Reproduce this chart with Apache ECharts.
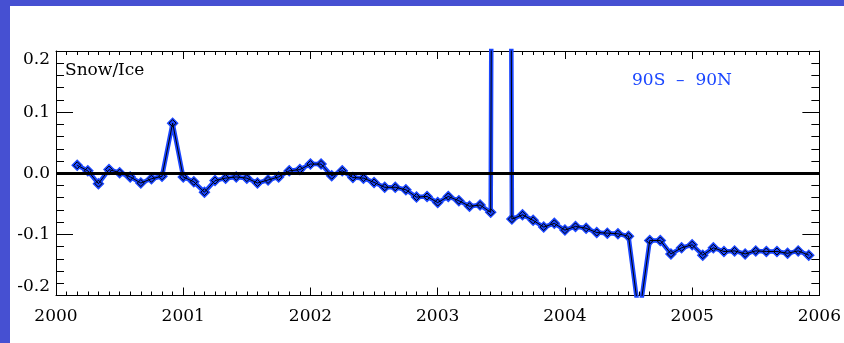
<!DOCTYPE html>
<html><head><meta charset="utf-8">
<script src="https://cdn.jsdelivr.net/npm/echarts@6/dist/echarts.min.js"></script>
<style>html,body{margin:0;padding:0;background:#fff}#c{width:844px;height:343px}</style>
</head><body><div id="c"></div>
<script>
// Monthly dates (YYYY-MM)
const dates = [
 '2000-03','2000-04','2000-05','2000-06','2000-07','2000-08','2000-09','2000-10','2000-11','2000-12',
 '2001-01','2001-02','2001-03','2001-04','2001-05','2001-06','2001-07','2001-08','2001-09','2001-10','2001-11','2001-12',
 '2002-01','2002-02','2002-03','2002-04','2002-05','2002-06','2002-07','2002-08','2002-09','2002-10','2002-11','2002-12',
 '2003-01','2003-02','2003-03','2003-04','2003-05','2003-06','2003-07','2003-08','2003-09','2003-10','2003-11','2003-12',
 '2004-01','2004-02','2004-03','2004-04','2004-05','2004-06','2004-07','2004-08','2004-09','2004-10','2004-11','2004-12',
 '2005-01','2005-02','2005-03','2005-04','2005-05','2005-06','2005-07','2005-08','2005-09','2005-10','2005-11','2005-12'
];
// Snow/Ice anomaly values (2003-07 is an off-scale spike)
const snowIce = [
 0.013, 0.004, -0.017, 0.006, 0.001, -0.006, -0.016, -0.009, -0.005, 0.082,
 -0.006, -0.014, -0.031, -0.012, -0.008, -0.006, -0.008, -0.016, -0.011, -0.006, 0.004, 0.006,
 0.015, 0.015, -0.004, 0.004, -0.007, -0.008, -0.015, -0.023, -0.023, -0.027, -0.039, -0.038,
 -0.048, -0.038, -0.045, -0.054, -0.052, -0.064, 5.0, -0.075, -0.068, -0.077, -0.088, -0.082,
 -0.093, -0.087, -0.090, -0.097, -0.098, -0.099, -0.103, -0.235, -0.110, -0.110, -0.132, -0.122,
 -0.117, -0.134, -0.122, -0.128, -0.127, -0.132, -0.127, -0.128, -0.128, -0.131, -0.127, -0.134
];
const xTicks = [2000, 2001, 2002, 2003, 2004, 2005, 2006];
const yTicks = [-0.2, -0.1, 0.0, 0.1, 0.2];
const panelLabel = 'Snow/Ice';
const regionLabel = '90S  \u2013  90N';

function toYear(s){ const p = s.split('-'); return +p[0] + (+p[1]-1)/12; }
const pts = dates.map((d,i)=>[toYear(d), snowIce[i]]);

const FONT = 'DejaVu Serif';
const BLUE = '#1a46ff';
const chart = echarts.init(document.getElementById('c'), null, {renderer:'canvas'});
const xBase = {
  type:'value', min:xTicks[0], max:xTicks[xTicks.length-1], interval:1,
  axisLine:{show:true, onZero:false, lineStyle:{color:'#000', width:1}},
  axisTick:{show:true, inside:true, length:8, lineStyle:{color:'#000', width:1}},
  minorTick:{show:true, splitNumber:12, length:4, lineStyle:{color:'#000', width:1}},
  splitLine:{show:false}
};
const yBase = {
  type:'value', min:yTicks[0], max:yTicks[yTicks.length-1], interval:0.1,
  axisLine:{show:true, onZero:false, lineStyle:{color:'#000', width:1}},
  axisTick:{show:true, inside:true, length:17, lineStyle:{color:'#000', width:1}},
  minorTick:{show:true, splitNumber:5, length:8, lineStyle:{color:'#000', width:1}},
  splitLine:{show:false}
};
chart.setOption({
  animation:false,
  backgroundColor:'#fff',
  grid:{left:56, right:19, top:51, bottom:47.5, containLabel:false},
  xAxis:[
    Object.assign({}, xBase, {position:'bottom',
      axisLabel:{show:true, color:'#000', fontFamily:FONT, fontSize:17, margin:13,
        formatter:v=>String(Math.round(v))}}),
    Object.assign({}, xBase, {position:'top', axisLabel:{show:false}})
  ],
  yAxis:[
    Object.assign({}, yBase, {position:'left',
      axisLabel:{show:true, color:'#000', fontFamily:FONT, fontSize:17, margin:6,
        verticalAlignMaxLabel:'top', verticalAlignMinLabel:'bottom',
        formatter:v=>Math.abs(v)<1e-9 ? '0.0' : v.toFixed(1)}}),
    Object.assign({}, yBase, {position:'right', axisLabel:{show:false}})
  ],
  series:[
    {
      type:'line', name:'blue', data:pts, xAxisIndex:0, yAxisIndex:0, clip:true,
      symbol:'diamond', symbolSize:12, showAllSymbol:true,
      lineStyle:{color:BLUE, width:4.5},
      itemStyle:{color:BLUE, borderColor:BLUE, borderWidth:0},
      z:2,
      markLine:{silent:true, symbol:'none', label:{show:false},
        lineStyle:{color:'#000', width:3, type:'solid'},
        data:[{yAxis:0}]}
    },
    {
      type:'line', name:'black', data:pts, xAxisIndex:0, yAxisIndex:0, clip:true,
      symbol:'diamond', symbolSize:7, showAllSymbol:true,
      lineStyle:{color:'#000', width:1},
      itemStyle:{color:'rgba(0,0,0,0)', borderColor:'#000', borderWidth:1},
      z:3
    }
  ],
  graphic:[
    {type:'rect', left:0, top:0, shape:{width:10, height:343}, style:{fill:'#4650d2'}, z:100},
    {type:'rect', left:0, top:0, shape:{width:844, height:6}, style:{fill:'#4650d2'}, z:100},
    {type:'text', left:65, top:62, style:{text:panelLabel, fill:'#000', font:'17px "DejaVu Serif"'}, z:100},
    {type:'text', left:632, top:72, style:{text:regionLabel, fill:'#1a46ff', font:'17px "DejaVu Serif"'}, z:100}
  ]
});
</script>
</body></html>
